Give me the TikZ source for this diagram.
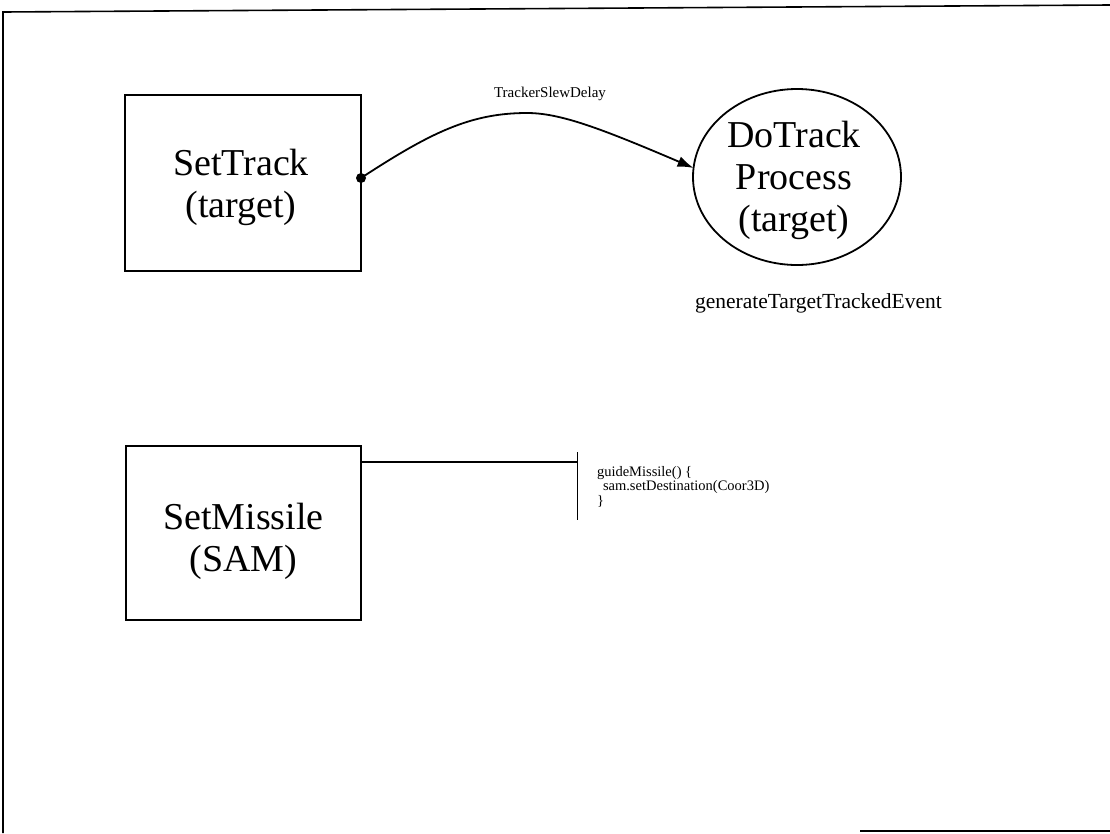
\documentclass[tikz,border=0pt]{standalone}
\usepackage{fontspec}
\setmainfont{Liberation Serif}
\usetikzlibrary{arrows.meta,shapes.geometric}
\begin{document}
\begin{tikzpicture}[x=1pt,y=-1pt,
  every node/.style={inner sep=0pt, outer sep=0pt},
  statebox/.style={draw, line width=1.8pt, minimum width=236pt, minimum height=176pt},
  stateoval/.style={draw, ellipse, line width=1.8pt, minimum width=208pt, minimum height=176pt},
  bigtext/.style={font=\fontsize{38}{42}\selectfont, align=center},
  smalltext/.style={font=\fontsize{15}{18}\selectfont},
  codetext/.style={font=\fontsize{14.5}{14.8}\selectfont, align=left},
  link/.style={line width=1.8pt},
  frameline/.style={line width=1.6pt}]
\useasboundingbox (0,0) rectangle (1110,833);
% frame
\coordinate (f1) at (3,833);
\coordinate (f2) at (3,12);
\coordinate (f3) at (1110,5);
\coordinate (f4) at (860,831);
\coordinate (f5) at (1110,831);
\draw[frameline] (f1) -- (f2) -- (f3);
\draw[frameline] (f4) -- (f5);
% nodes
\node[statebox] (settrack) at (243,183) {};
\node[bigtext] (settracktxt) at (241,187.5) {SetTrack\\(target)};
\node[stateoval] (dotrack) at (797,177) {};
\node[bigtext] (dotracktxt) at (794,180) {DoTrack\\Process\\(target)};
\node[smalltext, anchor=base] (delay) at (550,97) {TrackerSlewDelay};
\node[font=\fontsize{21.5}{24}\selectfont, anchor=base west] (gen) at (695,308) {generateTargetTrackedEvent};
\node[statebox, minimum width=235pt, minimum height=174pt] (setmissile) at (243.5,533) {};
\node[bigtext] (setmissiletxt) at (243.5,541.5) {SetMissile\\(SAM)};
% code attachment
\coordinate (bartop) at (577.5,452);
\coordinate (barbot) at (577.5,520);
\coordinate (barmid) at (577.5,462);
\node[codetext, anchor=north west] (code) at (597,466) {guideMissile() \{\\\hspace*{6pt}sam.setDestination(Coor3D)\\\}};
% connectors
\coordinate (dot) at ([yshift=5pt]settrack.east);
\coordinate (peak) at (527,113);
\draw[link, -{Latex[length=16pt,width=11pt]}] (dot) .. controls (430,133) and (470,113) .. (peak) .. controls (560,113) and (600,128) .. (dotrack.175);
\fill (dot) circle (5pt);
\draw[link] (setmissile.north east |- barmid) -- (barmid);
\draw[link] (bartop) -- (barbot);
\end{tikzpicture}
\end{document}
